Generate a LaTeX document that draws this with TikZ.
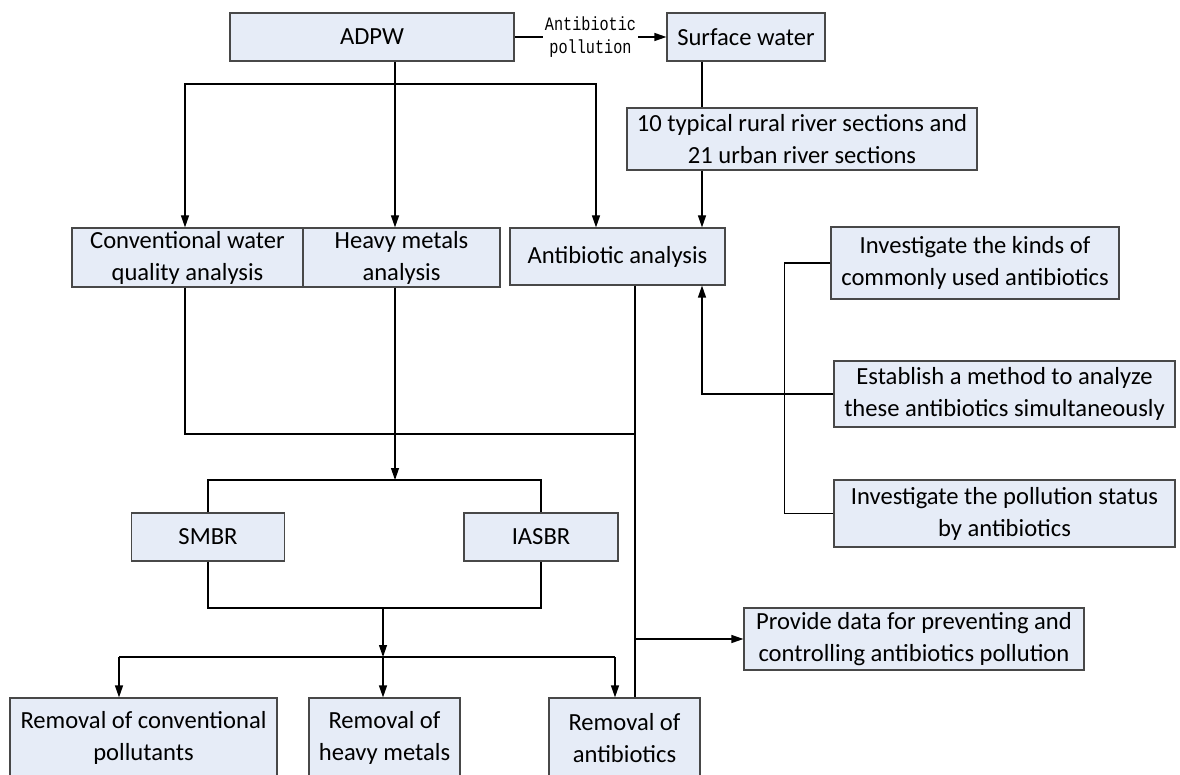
\documentclass[tikz,border=0pt]{standalone}
\usepackage{fontspec}
\setmainfont{Carlito}
\newfontfamily\labelfont[FakeStretch=0.8]{Liberation Mono}
\usetikzlibrary{positioning,arrows.meta}
\definecolor{boxfill}{RGB}{230,236,247}
\definecolor{boxline}{RGB}{72,72,72}

\begin{document}
\begin{tikzpicture}[
			x=1pt,y=-1pt,
			line width=1.2pt,
			box/.style={
					draw=boxline,
					fill=boxfill,
					align=center,
					inner sep=0pt,
					font=\fontsize{24.6pt}{32pt}\selectfont
				},
			lbl/.style={
					fill=white,
					inner sep=2pt,
					align=center,
					font=\labelfont\fontsize{19pt}{23pt}\selectfont
				},
			arr/.style={-{Triangle[length=12pt,width=8pt]}}
		]

		\useasboundingbox (0,0) rectangle (1180,775);
		\clip (0,0) rectangle (1180,775);

		\node[box,minimum width=284pt,minimum height=48pt] (adpw) at (372,37) {ADPW};
		\node[box,minimum width=158pt,minimum height=48pt] (surf) at (746,37) {Surface water};
		\node[box,minimum width=350pt,minimum height=62pt] (sect) at (802,139)
		{10 typical rural river sections and\\21 urban river sections};

		\node[box,minimum width=231pt,minimum height=59pt] (conv) at (187.5,257.5)
		{Conventional water\\quality analysis};
		\node[box,minimum width=197pt,minimum height=59pt] (heavy) at (401.5,257.5)
		{Heavy metals\\analysis};
		\node[box,minimum width=215pt,minimum height=57pt] (anti) at (617.5,256.5)
		{Antibiotic analysis};

		\node[box,minimum width=288pt,minimum height=72pt] (kinds) at (975,263)
		{Investigate the kinds of\\commonly used antibiotics};
		\node[box,minimum width=341pt,minimum height=66pt] (method) at (1004.5,394)
		{Establish a method to analyze\\these antibiotics simultaneously};
		\node[box,minimum width=341pt,minimum height=67pt] (status) at (1004.5,513.5)
		{Investigate the pollution status\\by antibiotics};

		\node[box,minimum width=153pt,minimum height=48pt] (smbr) at (208,537) {SMBR};
		\node[box,minimum width=154pt,minimum height=48pt] (iasbr) at (541,537) {IASBR};

		\node[box,minimum width=340pt,minimum height=62pt] (data) at (914,639)
		{Provide data for preventing and\\controlling antibiotics pollution};

		\node[box,minimum width=267pt,minimum height=80pt] (rmconv) at (143.5,738)
		{Removal of conventional\\pollutants};
		\node[box,minimum width=151pt,minimum height=80pt] (rmheavy) at (384.5,738)
		{Removal of\\heavy metals};
		\node[box,minimum width=151pt,minimum height=80pt] (rmanti) at (624.5,738)
		{Removal of\\antibiotics};

		\coordinate (split) at (395,84);
		\coordinate (tap) at ([xshift=-44pt]surf.south);
		\coordinate (drop) at ([xshift=17.5pt]anti.south);
		\coordinate (gather) at (635,434);
		\coordinate (fork) at (395,480);
		\coordinate (merge) at (383,608);
		\coordinate (spread) at (383,657);
		\coordinate (lft) at (119,657);
		\coordinate (rgt) at (615,657);

		\draw[arr] (adpw) -- node[lbl] {Antibiotic\\pollution} (surf);

		\draw[arr] (adpw.south -| split) -- (heavy.north -| split);
		\draw[arr] (split) -| ([xshift=-2.5pt]conv.north);
		\draw[arr] (split) -| ([xshift=-21.5pt]anti.north);

		\draw (tap) -- (tap |- sect.north);
		\draw[arr] (tap |- sect.south) -- (tap |- anti.north);

		\draw (kinds.west) -- ++(-46,0) |- (status.west);
		\draw[arr] (method.west) -| (tap |- anti.south);

		\draw ([xshift=-2.5pt]conv.south) |- (gather);
		\draw (drop) -- (drop |- rmanti.north);
		\draw[arr] (drop |- data.west) -- (data.west);

		\draw[arr] (heavy.south -| fork) -- (fork);
		\draw (smbr.north) |- (fork) -| (iasbr.north);
		\draw (smbr.south) |- (merge) -| (iasbr.south);
		\draw[arr] (merge) -- (spread);

		\draw (lft) -- (rgt);
		\draw[arr] (lft) -- (lft |- rmconv.north);
		\draw[arr] (spread) -- (spread |- rmheavy.north);
		\draw[arr] (rgt) -- (rgt |- rmanti.north);

	\end{tikzpicture}
\end{document}
